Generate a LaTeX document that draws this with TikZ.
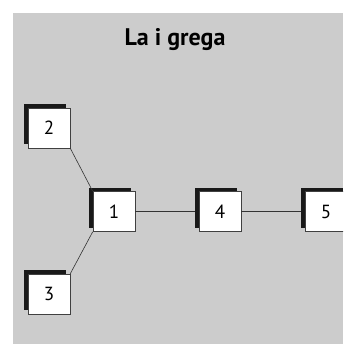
\documentclass[tikz,border=0pt]{standalone}
\usepackage{fontspec}
\setmainfont{PT Sans}
\usetikzlibrary{shadows, calc}

\tikzset{
  caja/.style={draw=black!75, line width=0.6pt, fill=white, minimum width=42pt, minimum height=40pt,
    inner sep=0pt, font=\fontsize{19}{19}\selectfont,
    general shadow={fill=black!90, shadow xshift=-4pt, shadow yshift=4pt}},
  linea/.style={draw=black!80, line width=0.6pt}
}

\begin{document}
\begin{tikzpicture}[x=1pt, y=-1pt]
        \useasboundingbox (0,0) rectangle (343,344);
        \clip (0,0) rectangle (343,344);
        \fill [black!20] (13,13) rectangle (343,344);

        \node [font=\bfseries\fontsize{24}{24}\selectfont] (titulo) at (175,40) {La i grega};

        \node [caja] (N1) at (114,211.5) {1};
        \node [caja] (N2) at (49,128) {2};
        \node [caja] (N3) at (49,294) {3};
        \node [caja] (N4) at (220,211.5) {4};
        \node [caja] (N5) at (326,211.5) {5};

        \draw [linea] (N2.south east) -- (N1.north west);
        \draw [linea] (N3.north east) -- (N1.south west);
        \draw [linea] (N1.east) -- ($(N4.west)+(-4,0)$);
        \draw [linea] (N4.east) -- ($(N5.west)+(-4,0)$);
    \end{tikzpicture}
\end{document}
